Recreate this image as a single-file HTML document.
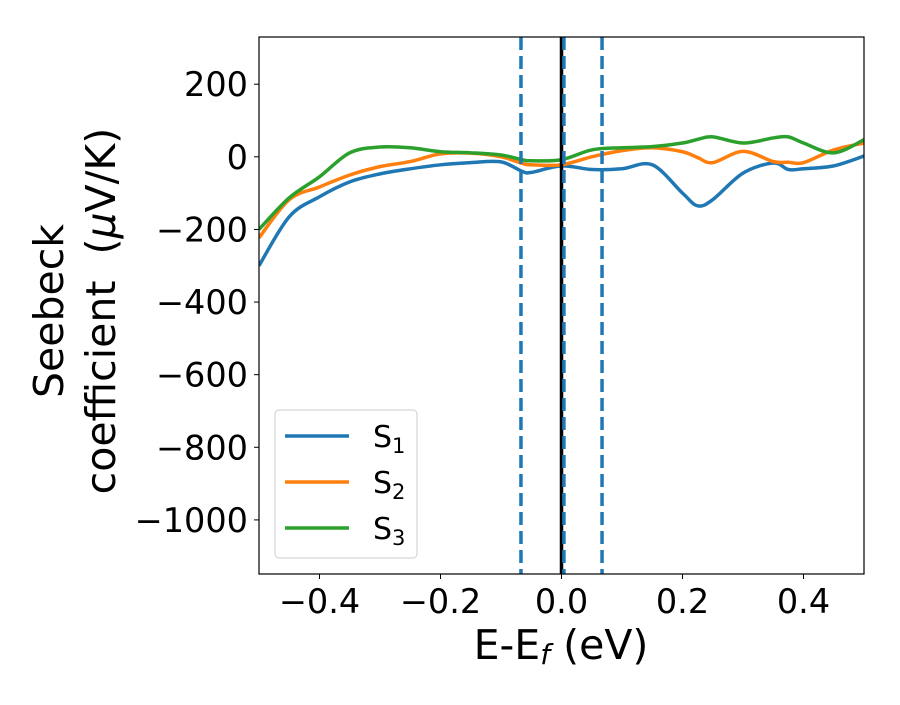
<!DOCTYPE html>
<html><head><meta charset="utf-8"><style>
body{margin:0;background:#fff}
svg text{font-family:"DejaVu Sans","Liberation Sans",sans-serif}
</style></head><body>
<svg id="chart" width="900" height="700" xmlns="http://www.w3.org/2000/svg">
</svg>
<script>
const xs=[-0.5,-0.45,-0.4,-0.35,-0.3,-0.25,-0.2,-0.15,-0.1,-0.065,-0.05,0,0.05,0.1,0.15,0.2,0.225,0.25,0.3,0.35,0.375,0.4,0.45,0.5];
const s1=[-300,-165,-110,-69,-47,-33,-22,-16,-14,-40,-43,-25,-35,-33,-22,-100,-135,-118,-45,-17,-35,-33,-25,2];
const s2=[-223,-118,-83,-50,-27,-13,8,10,0,-18,-22,-22,0,17,25,14,-2,-16,15,-13,-15,-16,19,38];
const s3=[-200,-113,-55,11,27,25,14,11,5,-8,-11,-8,19,25,28,38,48,55,38,52,55,38,11,47];
const xTicks=[-0.4,-0.2,0.0,0.2,0.4];
const xTickLabels=["−0.4","−0.2","0.0","0.2","0.4"];
const yTicks=[200,0,-200,-400,-600,-800,-1000];
const yTickLabels=["200","0","−200","−400","−600","−800","−1000"];
const vDashed=[-0.067,0.004,0.067];
const L=259,R=864,T=37,B=574,XMIN=-0.5,XMAX=0.5,YMIN=-1149,YMAX=330;
const X=v=>L+(v-XMIN)/(XMAX-XMIN)*(R-L);
const Y=v=>B-(v-YMIN)/(YMAX-YMIN)*(B-T);
const NS="http://www.w3.org/2000/svg";
const svg=document.getElementById('chart');
function mk(t,a,p){const e=document.createElementNS(NS,t);for(const k in a)e.setAttribute(k,a[k]);(p||svg).appendChild(e);return e;}
const clip=mk('clipPath',{id:'pc'});mk('rect',{x:L,y:T,width:R-L,height:B-T},clip);
const g=mk('g',{'clip-path':'url(#pc)'});
function path(ys){const p=xs.map((x,i)=>[X(x),Y(ys[i])]);let d=`M${p[0][0]},${p[0][1]}`;
for(let i=0;i<p.length-1;i++){const p0=p[Math.max(0,i-1)],p1=p[i],p2=p[i+1],p3=p[Math.min(p.length-1,i+2)];
d+=` C${p1[0]+(p2[0]-p0[0])/6},${p1[1]+(p2[1]-p0[1])/6} ${p2[0]-(p3[0]-p1[0])/6},${p2[1]-(p3[1]-p1[1])/6} ${p2[0]},${p2[1]}`;}return d;}
const cols=['#1f77b4','#ff7f0e','#2ca02c'];
[s1,s2,s3].forEach((s,i)=>{const e=mk('path',{d:path(s),fill:'none',stroke:cols[i],'stroke-width':3.5},g);

});
const z=mk('line',{x1:X(0),x2:X(0),y1:T,y2:B,stroke:'#000','stroke-width':3.5},g);


vDashed.forEach(v=>{const e=mk('line',{x1:X(v),x2:X(v),y1:T,y2:B,stroke:'#1f77b4','stroke-width':3.5,'stroke-dasharray':'13,6'},g);

});
const fr=mk('rect',{x:L,y:T,width:R-L,height:B-T,fill:'none',stroke:'#000','stroke-width':1.2});


xTicks.forEach((v,i)=>{mk('line',{x1:X(v),x2:X(v),y1:B,y2:B+5,stroke:'#000'});
const t=mk('text',{x:X(v),y:B+39,'text-anchor':'middle','font-size':33.5});t.textContent=xTickLabels[i];

});
yTicks.forEach((v,i)=>{mk('line',{x1:L-5,x2:L,y1:Y(v),y2:Y(v),stroke:'#000'});
const t=mk('text',{x:L-11,y:Y(v)+12,'text-anchor':'end','font-size':33.5});t.textContent=yTickLabels[i];

});
</script>
<svg style="position:absolute;left:0;top:0" width="900" height="700" xmlns="http://www.w3.org/2000/svg">
<text x="561" y="659" text-anchor="middle" font-size="41" font-family="DejaVu Sans, sans-serif">E-E<tspan font-style="italic" font-size="28" dy="5">f</tspan><tspan dy="-5"> (eV)</tspan></text>
<g font-size="41" font-family="DejaVu Sans, sans-serif" text-anchor="middle">
<text transform="translate(63,311) rotate(-90)">Seebeck</text>
<text transform="translate(115,311) rotate(-90)" xml:space="preserve">coefficient  (<tspan font-style="italic">μ</tspan>V/K)</text>
</g>
<g font-family="DejaVu Sans, sans-serif" font-size="30">
<rect x="275" y="410" width="142" height="148" rx="4" fill="#fff" fill-opacity="0.85" stroke="#ccc"/>
<line x1="285" x2="349" y1="436" y2="436" stroke="#1f77b4" stroke-width="3.5"/>
<text x="373" y="447">S<tspan font-size="21" dy="6">1</tspan></text>
<line x1="285" x2="349" y1="482" y2="482" stroke="#ff7f0e" stroke-width="3.5"/>
<text x="373" y="493">S<tspan font-size="21" dy="6">2</tspan></text>
<line x1="285" x2="349" y1="528" y2="528" stroke="#2ca02c" stroke-width="3.5"/>
<text x="373" y="539">S<tspan font-size="21" dy="6">3</tspan></text>
</g>
</svg>
</body></html>
